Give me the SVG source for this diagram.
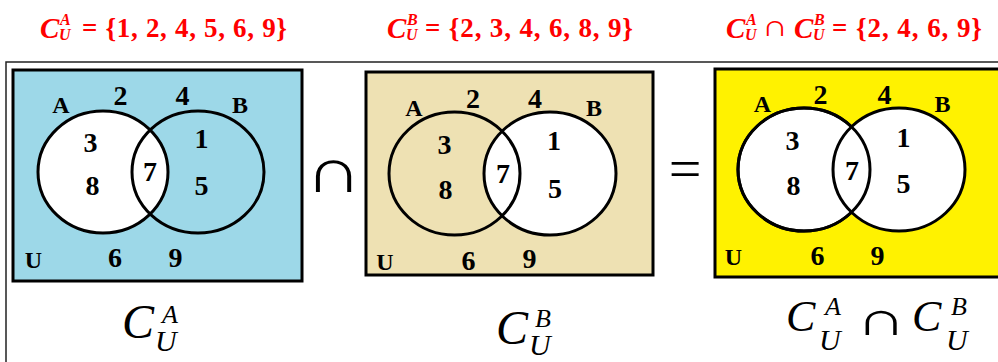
<svg xmlns="http://www.w3.org/2000/svg" width="998" height="362" viewBox="0 0 998 362">
<style>
.frame{fill:none;stroke:#222;stroke-width:1.5}
.box{stroke:#000;stroke-width:3}
.c{stroke:#000;stroke-width:3}
.n{font-family:"Liberation Serif","Times New Roman",serif;font-weight:bold;font-size:28px;fill:#000;text-anchor:middle}
.l{font-family:"Liberation Serif","Times New Roman",serif;font-weight:bold;font-size:24px;fill:#000;text-anchor:middle}
.t{font-family:"Liberation Serif","Times New Roman",serif;font-weight:bold;fill:#f00}
.ti{font-family:"Liberation Serif","Times New Roman",serif;font-weight:bold;font-style:italic;fill:#f00}
.m{font-family:"Liberation Serif","Times New Roman",serif;font-style:italic;fill:#000}
.op{font-family:"Liberation Serif","Times New Roman",serif;fill:#000;text-anchor:middle}
</style>
<g id="frame">
<path class="frame" d="M6,362 V62 H998"/>
</g>
<g id="title1">
<text class="ti" x="40" y="38" font-size="29">C</text>
<text class="ti" x="60" y="25" font-size="16">A</text>
<text class="ti" x="59" y="40" font-size="16">U</text>
<text class="t" x="82" y="37" font-size="27" textLength="205" lengthAdjust="spacing">= {1, 2, 4, 5, 6, 9}</text>
</g>
<g id="title2">
<text class="ti" x="387" y="38" font-size="29">C</text>
<text class="ti" x="407" y="25" font-size="16">B</text>
<text class="ti" x="406" y="40" font-size="16">U</text>
<text class="t" x="425" y="37" font-size="27" textLength="208" lengthAdjust="spacing">= {2, 3, 4, 6, 8, 9}</text>
</g>
<g id="title3">
<text class="ti" x="726" y="38" font-size="29">C</text>
<text class="ti" x="746" y="25" font-size="16">A</text>
<text class="ti" x="745" y="40" font-size="16">U</text>
<text class="t" font-size="30" text-anchor="middle" transform="translate(775,36) scale(1.2,1)">∩</text>
<text class="ti" x="794" y="38" font-size="29">C</text>
<text class="ti" x="814" y="25" font-size="16">B</text>
<text class="ti" x="813" y="40" font-size="16">U</text>
<text class="t" x="832" y="37" font-size="27" textLength="150" lengthAdjust="spacing">= {2, 4, 6, 9}</text>
</g>
<g id="venn1">
<rect class="box" x="13" y="70" width="289" height="211" fill="#9dd8e8"/>
<ellipse class="c" cx="103" cy="172" rx="65" ry="61" fill="#fff"/>
<ellipse class="c" cx="198" cy="172" rx="66" ry="61" fill="none"/>
<text class="l" x="61" y="113">A</text>
<text class="n" x="120.5" y="105">2</text>
<text class="n" x="182.5" y="105">4</text>
<text class="l" x="240" y="113">B</text>
<text class="n" x="90.5" y="152">3</text>
<text class="n" x="92.5" y="195">8</text>
<text class="n" x="150" y="181">7</text>
<text class="n" x="201.5" y="148">1</text>
<text class="n" x="201.5" y="195">5</text>
<text class="l" x="33.5" y="268">U</text>
<text class="n" x="115" y="267">6</text>
<text class="n" x="175.5" y="267">9</text>
</g>
<g id="venn2">
<rect class="box" x="366" y="72" width="287" height="203" fill="#eee1b3"/>
<ellipse class="c" cx="550" cy="173.5" rx="66" ry="61.5" fill="#fff"/>
<ellipse class="c" cx="454.5" cy="173.5" rx="65.5" ry="61.5" fill="none"/>
<text class="l" x="414" y="116">A</text>
<text class="n" x="473" y="108">2</text>
<text class="n" x="535" y="108">4</text>
<text class="l" x="594" y="116">B</text>
<text class="n" x="444.5" y="154">3</text>
<text class="n" x="445.5" y="199">8</text>
<text class="n" x="503" y="183">7</text>
<text class="n" x="554" y="150">1</text>
<text class="n" x="555" y="198">5</text>
<text class="l" x="385" y="270">U</text>
<text class="n" x="468.5" y="270">6</text>
<text class="n" x="529.5" y="268">9</text>
</g>
<g id="venn3">
<rect class="box" x="715" y="69" width="290" height="208" fill="#fff200"/>
<ellipse class="c" cx="804" cy="169.5" rx="66" ry="61.5" fill="#fff"/>
<ellipse class="c" cx="899" cy="169.5" rx="66" ry="61.5" fill="#fff"/>
<ellipse class="c" cx="804" cy="169.5" rx="66" ry="61.5" fill="none"/>
<text class="l" x="762.5" y="112">A</text>
<text class="n" x="820.5" y="104">2</text>
<text class="n" x="884.5" y="104">4</text>
<text class="l" x="942.5" y="112">B</text>
<text class="n" x="792.5" y="150">3</text>
<text class="n" x="793.5" y="195">8</text>
<text class="n" x="852" y="180">7</text>
<text class="n" x="903.5" y="147">1</text>
<text class="n" x="903.5" y="193">5</text>
<text class="l" x="733.5" y="265">U</text>
<text class="n" x="817.5" y="265">6</text>
<text class="n" x="877.5" y="265">9</text>
</g>
<g id="operators">
<text class="op" font-size="63" transform="translate(333.5,192) scale(1.25,1)">∩</text>
<text class="op" x="685" y="188" font-size="58">=</text>
</g>
<g id="label1">
<text class="m" x="122" y="338" font-size="48">C</text>
<text class="m" x="162" y="323" font-size="26">A</text>
<text class="m" x="155" y="351" font-size="30">U</text>
</g>
<g id="label2">
<text class="m" x="496" y="344" font-size="48">C</text>
<text class="m" x="535" y="327" font-size="26">B</text>
<text class="m" x="529" y="355" font-size="30">U</text>
</g>
<g id="label3">
<text class="m" x="786" y="331" font-size="44">C</text>
<text class="m" x="825" y="315" font-size="26">A</text>
<text class="m" x="819" y="350" font-size="30">U</text>
<text class="op" font-size="48" transform="translate(881,335) scale(1.45,1)">∩</text>
<text class="m" x="912" y="331" font-size="44">C</text>
<text class="m" x="951" y="315" font-size="26">B</text>
<text class="m" x="946" y="350" font-size="30">U</text>
</g>
</svg>
